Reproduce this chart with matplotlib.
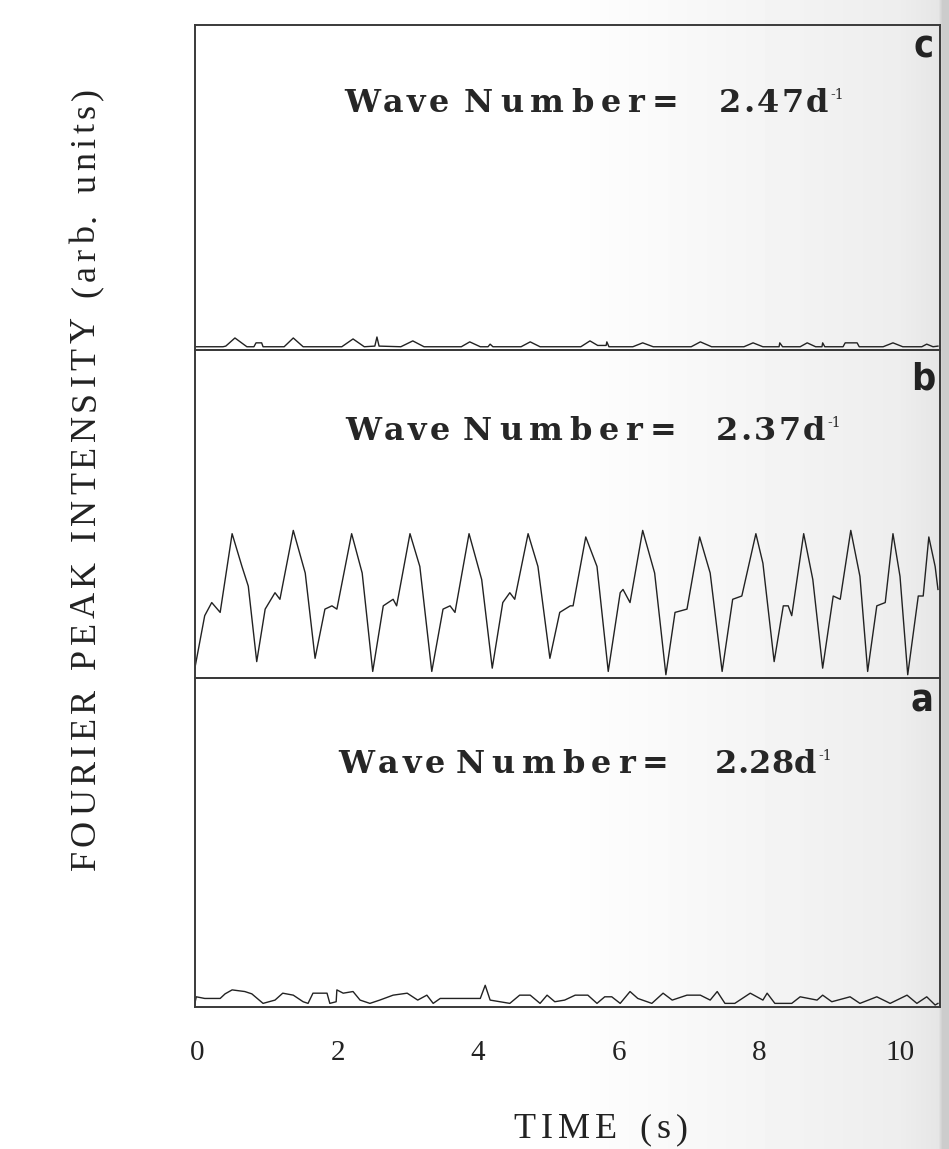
import numpy as np
import matplotlib
matplotlib.use('Agg')
from matplotlib import pyplot as plt

W, H = 949, 1149

# panel b: the oscillating peak (time in s, intensity in arb. units)
t_b = [-0.03, 0.11, 0.21, 0.33, 0.50, 0.64, 0.73, 0.85,
       0.97, 1.11, 1.18, 1.37, 1.54, 1.68,
       1.82, 1.92, 1.99, 2.20, 2.35, 2.50,
       2.65, 2.79, 2.84, 3.03, 3.17, 3.34,
       3.50, 3.60, 3.67, 3.87, 4.05, 4.20,
       4.35, 4.45, 4.52, 4.71, 4.85, 5.02,
       5.16, 5.31, 5.35, 5.53, 5.69, 5.85,
       6.02, 6.06, 6.16, 6.34, 6.51, 6.67,
       6.80, 6.97, 7.15, 7.30, 7.47,
       7.62, 7.75, 7.95, 8.05, 8.21,
       8.34, 8.41, 8.46, 8.63, 8.76, 8.90,
       9.05, 9.15, 9.30, 9.43, 9.54,
       9.67, 9.79, 9.90, 10.00, 10.11,
       10.26, 10.33, 10.41, 10.50, 10.54]
y_b = [0.03, 0.19, 0.23, 0.20, 0.44, 0.34, 0.28, 0.05,
       0.21, 0.26, 0.24, 0.45, 0.32, 0.06,
       0.21, 0.22, 0.21, 0.44, 0.32, 0.02,
       0.22, 0.24, 0.22, 0.44, 0.34, 0.02,
       0.21, 0.22, 0.20, 0.44, 0.30, 0.03,
       0.23, 0.26, 0.24, 0.44, 0.34, 0.06,
       0.20, 0.22, 0.22, 0.43, 0.34, 0.02,
       0.26, 0.27, 0.23, 0.45, 0.32, 0.01,
       0.20, 0.21, 0.43, 0.32, 0.02,
       0.24, 0.25, 0.44, 0.35, 0.05,
       0.22, 0.22, 0.19, 0.44, 0.30, 0.03,
       0.25, 0.24, 0.45, 0.31, 0.02,
       0.22, 0.23, 0.44, 0.31, 0.01,
       0.25, 0.25, 0.43, 0.34, 0.27]

# panel c: almost nothing
t_c = [-0.03, 0.37, 0.41, 0.54, 0.71, 0.81, 0.84, 0.92, 0.94, 1.24,
       1.37, 1.51, 2.06, 2.22, 2.38, 2.53, 2.56, 2.59, 2.90, 3.07,
       3.23, 3.76, 3.88, 4.03, 4.14, 4.17, 4.21, 4.61, 4.74, 4.88,
       5.46, 5.59, 5.70, 5.82, 5.83, 5.86, 6.20, 6.34, 6.49, 7.03,
       7.16, 7.32, 7.78, 7.91, 8.05, 8.28, 8.29, 8.33, 8.58, 8.68,
       8.80, 8.89, 8.90, 8.93, 9.19, 9.22, 9.39, 9.42, 9.76, 9.90,
       10.04, 10.31, 10.38, 10.47, 10.54]
y_c = [.010, .010, .012, .037, .010, .010, .022, .022, .010, .010,
       .037, .010, .010, .034, .010, .012, .040, .012, .010, .028,
       .010, .010, .025, .010, .010, .018, .010, .010, .025, .010,
       .010, .028, .014, .014, .025, .010, .010, .022, .010, .010,
       .025, .010, .010, .022, .010, .010, .022, .010, .010, .022,
       .010, .010, .022, .010, .010, .022, .022, .010, .010, .022,
       .010, .010, .018, .010, .012]

# panel a: almost nothing
t_a = [-0.03, -0.01, 0.11, 0.33, 0.40, 0.50, 0.68, 0.78, 0.94, 1.11,
       1.22, 1.37, 1.51, 1.58, 1.65, 1.85, 1.89, 1.98, 1.99, 2.08,
       2.22, 2.32, 2.46, 2.60, 2.79, 2.99, 3.14, 3.27, 3.36, 3.46,
       4.03, 4.10, 4.17, 4.45, 4.59, 4.74, 4.88, 4.98, 5.09, 5.23,
       5.38, 5.56, 5.69, 5.80, 5.90, 6.02, 6.16, 6.27, 6.47, 6.63,
       6.76, 6.97, 7.16, 7.30, 7.40, 7.51, 7.65, 7.87, 8.05, 8.11,
       8.22, 8.46, 8.58, 8.82, 8.90, 9.03, 9.29, 9.43, 9.67, 9.86,
       10.10, 10.24, 10.38, 10.50, 10.54]
y_a = [.011, .031, .026, .026, .040, .052, .047, .040, .011, .021,
       .042, .036, .016, .011, .042, .042, .011, .016, .052, .042,
       .047, .021, .011, .021, .036, .042, .021, .036, .011, .026,
       .026, .066, .021, .011, .036, .036, .011, .036, .016, .021,
       .036, .036, .011, .031, .031, .011, .047, .026, .011, .042,
       .021, .036, .036, .021, .047, .011, .011, .042, .021, .042,
       .011, .011, .031, .021, .036, .016, .031, .011, .031, .011,
       .036, .011, .031, .006, .011]

panel_names = ['c', 'b', 'a']
wave_numbers = ['2.47d', '2.37d', '2.28d']
xticks = [0, 2, 4, 6, 8, 10]
xlabel = 'TIME (s)'
ylabel = 'FOURIER PEAK INTENSITY (arb. units)'

fig = plt.figure(figsize=(W/100, H/100), dpi=100)

# scanned page look: slight shadow toward the right edge
bg = fig.add_axes([0, 0, 1, 1], zorder=-5)
shade = np.interp(np.arange(W), [0, 550, 900, 938, 942, 949], [1, 1, .93, .9, .8, .8])
bg.imshow(np.tile(shade, (2, 1)), cmap='gray', vmin=0, vmax=1, aspect='auto', extent=[0, W, H, 0])
bg.axis('off')

edges = [25, 350, 678, 1007]
traces = [(t_c, y_c), (t_b, y_b), (t_a, y_a)]
axes = []
for i in range(3):
    top, bot = edges[i], edges[i+1]
    ax = fig.add_axes([195/W, 1 - bot/H, 745/W, (bot - top)/H])
    ax.patch.set_alpha(0)
    t, y = traces[i]
    ax.plot(t, y, color='#222222', lw=1.0)
    ax.set_xlim(-0.028, 10.569)
    ax.set_ylim(0, 1)
    ax.set_yticks([])
    ax.set_xticks(xticks)
    ax.tick_params(length=0, pad=24)
    for s in ax.spines.values():
        s.set_color('#3a3a3a')
        s.set_linewidth(1.4)
    if i < 2:
        ax.set_xticklabels([])
    else:
        ax.set_xticklabels([str(v) for v in xticks], family='Liberation Serif', fontsize=21, color='#222222')
    axes.append(ax)

renderer = fig.canvas.get_renderer()


def spread(s, x0, x1, base, rot=False, **kw):
    # lay the characters of s out evenly from x0 to x1 (pixels, y counted from top)
    space_w = kw['fontsize'] * 100 / 72 * 0.3
    ws = []
    for ch in s:
        if ch == ' ':
            ws.append(space_w)
            continue
        tmp = fig.text(0, 0, ch, **kw)
        ws.append(tmp.get_window_extent(renderer).width)
        tmp.remove()
    gap = (abs(x1 - x0) - sum(ws)) / (len(s) - 1)
    pos = 0
    for ch, w in zip(s, ws):
        if ch != ' ':
            if rot:
                fig.text(base/W, 1 - (x0 - pos)/H, ch, rotation=90, rotation_mode='anchor',
                         ha='left', va='baseline', **kw)
            else:
                fig.text((x0 + pos)/W, 1 - base/H, ch, ha='left', va='baseline', **kw)
        pos += w + gap


wn_font = dict(family='DejaVu Serif', fontweight='bold', fontsize=23, color='#262626')
# (Wave, Number=, value) spans in pixels, baseline
wn_pos = [((344, 449), (464, 678), (719, 828), 112),
          ((345, 450), (463, 676), (716, 825), 440),
          ((338, 445), (456, 668), (715, 816), 773)]
for i in range(3):
    p1, p2, p3, base = wn_pos[i]
    spread('Wave', p1[0], p1[1], base, **wn_font)
    spread('Number=', p2[0], p2[1], base, **wn_font)
    spread(wave_numbers[i], p3[0], p3[1], base, **wn_font)
    fig.text((p3[1] + 2)/W, 1 - (base - 13)/H, '-1', family='DejaVu Serif', fontsize=10,
             color='#262626', ha='left', va='baseline')

letter_pos = [(934, 58), (935, 390), (933, 712)]
for name, (x, y) in zip(panel_names, letter_pos):
    fig.text(x/W, 1 - y/H, name, family='DejaVu Sans', fontstretch='condensed',
             fontweight='bold', fontsize=27, color='#222222', ha='right', va='baseline')

lab_font = dict(family='Liberation Serif', fontsize=26, color='#222222')
spread(xlabel, 513, 688, 1138, **lab_font)
spread(ylabel, 870, 88, 95, rot=True, **lab_font)

plt.savefig('out.png', dpi=100)
